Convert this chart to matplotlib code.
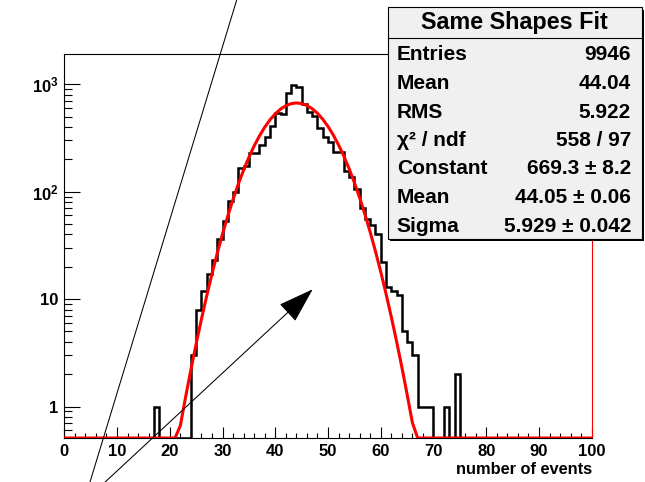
import numpy as np
import matplotlib
matplotlib.use("Agg")
import matplotlib.pyplot as plt
from matplotlib.patches import Rectangle, FancyArrowPatch, ArrowStyle
from matplotlib.lines import Line2D
from matplotlib.ticker import MultipleLocator, LogLocator, FixedLocator, FixedFormatter, NullFormatter

plt.rcParams['font.family'] = ['Liberation Sans', 'DejaVu Sans']
plt.rcParams['font.weight'] = 'bold'
plt.rcParams['mathtext.fontset'] = 'custom'
plt.rcParams['mathtext.rm'] = 'Liberation Sans:bold'
plt.rcParams['mathtext.bf'] = 'Liberation Sans:bold'
plt.rcParams['mathtext.it'] = 'Liberation Sans:italic:bold'

# histogram: 100 bins of width 1 on [0, 100]; only the filled bins are listed
n_bins = 100
x_min, x_max = 0, 100
filled_bins = [17, 24, 25, 26, 27, 28, 29, 30, 31, 32,
               33, 34, 35, 36, 37, 38, 39, 40, 41, 42,
               43, 44, 45, 46, 47, 48, 49, 50, 51, 52,
               53, 54, 55, 56, 57, 58, 59, 60, 61, 62,
               63, 64, 65, 66, 67, 68, 69, 72, 74]
filled_counts = [1, 3, 8, 12, 17, 23, 36, 53, 81, 99,
                 165, 172, 228, 230, 272, 320, 410, 535, 525, 823,
                 992, 950, 650, 555, 508, 390, 320, 287, 232, 236,
                 157, 138, 106, 70, 56, 49, 40, 22, 13, 12,
                 11, 5, 4, 3, 1, 1, 1, 1, 2]

# gaussian fit result (as printed in the stats box)
fit_const, fit_mean, fit_sigma = 669.3, 44.05, 5.929

stats_title = 'Same Shapes Fit'
stat_labels = ['Entries', 'Mean', 'RMS', 'χ² / ndf', 'Constant', 'Mean', 'Sigma']
stat_values = ['9946', '44.04', '5.922', '558 / 97', '669.3 ± 8.2', '44.05 ± 0.06', '5.929 ± 0.042']

x_major = [0, 10, 20, 30, 40, 50, 60, 70, 80, 90, 100]
y_major = [1, 10, 100, 1000]
y_major_labels = ['1', '10', r'$\mathbf{10^{2}}$', r'$\mathbf{10^{3}}$']

W, H = 645, 482
y_lo, y_hi = 0.51, 1910


def fx(x):
    return x / W


def fy(y):
    return 1 - y / H


fig = plt.figure(figsize=(W / 100, H / 100), dpi=100)
ax = fig.add_axes([fx(64.3), fy(438), (591.7 - 64.3) / W, (438 - 54) / H])

edges = np.linspace(x_min, x_max, n_bins + 1)
counts = np.zeros(n_bins)
counts[filled_bins] = filled_counts
ax.stairs(np.maximum(counts, y_lo), edges, baseline=y_lo, color='black', lw=1.8, zorder=3)

xf = np.linspace(x_min, x_max, 101)
yf = fit_const * np.exp(-0.5 * ((xf - fit_mean) / fit_sigma) ** 2)
ax.plot(xf, np.maximum(yf, y_lo), color='red', lw=2.2, zorder=4)

ax.set_yscale('log')
ax.set_xlim(x_min, x_max)
ax.set_ylim(y_lo, y_hi)

ax.xaxis.set_major_locator(FixedLocator(x_major))
ax.xaxis.set_minor_locator(MultipleLocator(2))
ax.yaxis.set_major_locator(FixedLocator(y_major))
ax.yaxis.set_major_formatter(FixedFormatter(y_major_labels))
ax.yaxis.set_minor_locator(LogLocator(base=10, subs=np.arange(2, 10)))
ax.yaxis.set_minor_formatter(NullFormatter())

ax.tick_params(axis='x', which='major', direction='in', length=8, width=0.8, pad=4, labelsize=12)
ax.tick_params(axis='x', which='minor', direction='in', length=3.6, width=0.8)
ax.tick_params(axis='y', which='major', direction='in', length=11.5, width=0.8, pad=4, labelsize=12)
ax.tick_params(axis='y', which='minor', direction='in', length=5.8, width=0.8)
ax.tick_params(top=False, right=False, which='both')

for s in ['left', 'bottom', 'top']:
    ax.spines[s].set_linewidth(0.8)
    ax.spines[s].set_color('black')
ax.spines['right'].set_color('red')
ax.spines['right'].set_linewidth(0.8)

ax.set_xlabel('number of events', fontsize=11.8, fontweight='bold')
ax.xaxis.set_label_coords(1.0, (438 - 470) / 384)
ax.xaxis.label.set_ha('right')
ax.xaxis.label.set_va('center')

# stray line and arrow drawn on the canvas
fig.add_artist(Line2D([fx(236.7), fx(90)], [fy(0), fy(482)], color='black', lw=0.75))
arrow = FancyArrowPatch((fx(103), fy(484)), (fx(312.7), fy(289.3)),
                        transform=fig.transFigure, color='black', lw=0.75,
                        arrowstyle=ArrowStyle('-|>', head_length=23, head_width=7.5),
                        mutation_scale=1, shrinkA=0, shrinkB=0)
fig.add_artist(arrow)

# stats box
bl, bt, br, bb = 387.5, 7.5, 641.5, 238.5
fig.add_artist(Rectangle((fx(bl + 2.5), fy(bb + 2.5)), (br - bl) / W, (bb - bt) / H,
                         transform=fig.transFigure, facecolor='black', edgecolor='black', lw=0))
fig.add_artist(Rectangle((fx(bl), fy(bb)), (br - bl) / W, (bb - bt) / H,
                         transform=fig.transFigure, facecolor='#f0f0f0', edgecolor='black', lw=0.8))
fig.add_artist(Line2D([fx(bl), fx(br)], [fy(37.5), fy(37.5)], color='black', lw=0.8))
fig.text(fx((bl + br) / 2), fy(22), stats_title, ha='center', va='center', fontsize=16.8, fontweight='bold')
for i, (lab, val) in enumerate(zip(stat_labels, stat_values)):
    yy = fy(55 + 28.5 * i)
    fig.text(fx(396.7), yy, lab, ha='left', va='center', fontsize=15, fontweight='bold')
    fig.text(fx(631), yy, val, ha='right', va='center', fontsize=15, fontweight='bold')

fig.savefig('out.png', dpi=100, facecolor='white')
